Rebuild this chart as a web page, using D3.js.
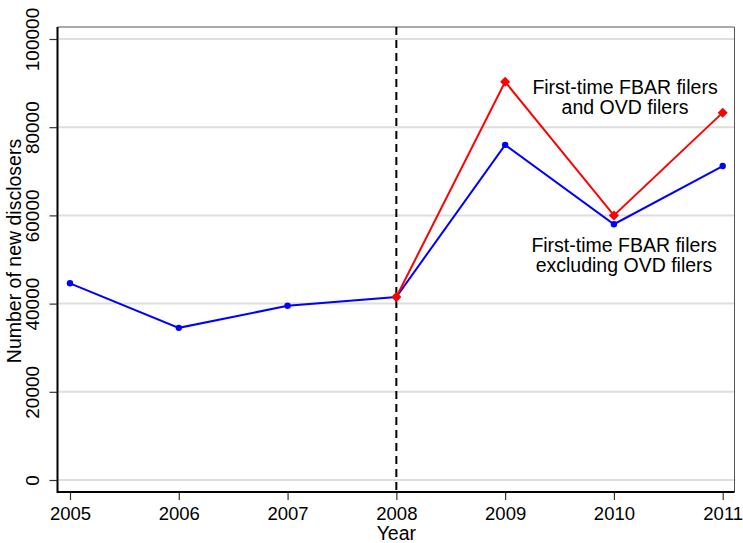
<!DOCTYPE html>
<html><head><meta charset="utf-8">
<script src="https://cdn.jsdelivr.net/npm/d3@7"></script>
<style>body{margin:0;background:#fff}svg{display:block}text{font-family:"Liberation Sans",Arial,sans-serif;fill:#000}</style>
</head><body>
<svg id="c" width="743" height="543"></svg>
<script>
const years = [2005, 2006, 2007, 2008, 2009, 2010, 2011];
const excludingOVD = [44600, 34500, 39500, 41500, 76000, 58000, 71200];
const ovdYears = [2008, 2009, 2010, 2011];
const withOVD = [41500, 90300, 60000, 83300];
const yTicks = [0, 20000, 40000, 60000, 80000, 100000];
const labelA = ["First-time FBAR filers", "and OVD filers"];
const labelB = ["First-time FBAR filers", "excluding OVD filers"];

const svg = d3.select("#c");
const L = 57.5, R = 734.5, T = 27, B = 492;
const x = d3.scaleLinear().domain([2005, 2011]).range([70, 722.7]);
const y = d3.scaleLinear().domain([0, 100000]).range([480, 39]);

// grid
svg.append("g").selectAll("line").data(yTicks).join("line")
  .attr("x1", L).attr("x2", R).attr("y1", d => y(d)).attr("y2", d => y(d))
  .attr("stroke", "#dedede").attr("stroke-width", 2);

// frame top/right
svg.append("path").attr("d", `M${L},${T}H${R}V${B}`).attr("fill", "none")
  .attr("stroke", "#555").attr("stroke-width", 1);

// y axis
const ya = svg.append("g").attr("transform", `translate(${L},0)`)
  .call(d3.axisLeft(y).tickValues(yTicks).tickSize(8).tickPadding(0).tickFormat(d3.format("d")));
ya.select(".domain").remove();
ya.selectAll(".tick line").attr("stroke", "#333").attr("stroke-width", 1.2);
ya.selectAll(".tick text").attr("font-size", 19).attr("font-family", "Liberation Sans, Arial")
  .attr("text-anchor", "middle").attr("transform", "translate(-25,0) rotate(-90)")
  .attr("x", 0).attr("dy", "0.35em").attr("fill", "#000");

// x axis
const xa = svg.append("g").attr("transform", `translate(0,${B})`)
  .call(d3.axisBottom(x).tickValues(years).tickSize(8).tickPadding(7).tickFormat(d3.format("d")));
xa.select(".domain").remove();
xa.selectAll(".tick line").attr("stroke", "#333").attr("stroke-width", 1.2);
xa.selectAll(".tick text").attr("font-size", 18.5).attr("font-family", "Liberation Sans, Arial").attr("fill", "#000");

// left & bottom thick axis lines
svg.append("path").attr("d", `M${L},${T}V${B}H${R}`).attr("fill", "none")
  .attr("stroke", "#000").attr("stroke-width", 2);

// titles
svg.append("text").attr("x", x(2008)).attr("y", 540).attr("text-anchor", "middle")
  .attr("font-size", 19.5).text("Year");
svg.append("text").attr("transform", "translate(21,251) rotate(-90)").attr("text-anchor", "middle")
  .attr("font-size", 19.5).text("Number of new disclosers");

// dashed vline
svg.append("line").attr("x1", x(2008)).attr("x2", x(2008)).attr("y1", T).attr("y2", B)
  .attr("stroke", "#000").attr("stroke-width", 2).attr("stroke-dasharray", "8,5");

// series
const blue = years.map((d, i) => [d, excludingOVD[i]]);
const red = ovdYears.map((d, i) => [d, withOVD[i]]);
const line = d3.line().x(d => x(d[0])).y(d => y(d[1]));
svg.append("path").datum(blue).attr("d", line).attr("fill", "none").attr("stroke", "#0000ff").attr("stroke-width", 2);
svg.append("g").selectAll("circle").data(blue).join("circle")
  .attr("cx", d => x(d[0])).attr("cy", d => y(d[1])).attr("r", 3.2).attr("fill", "#0000ff");

svg.append("path").datum(red).attr("d", line).attr("fill", "none").attr("stroke", "#ff0000").attr("stroke-width", 2);
svg.append("g").selectAll("path").data(red).join("path")
  .attr("transform", d => `translate(${x(d[0])},${y(d[1])})`)
  .attr("d", d3.symbol(d3.symbolDiamond2, 64)).attr("fill", "#ff0000");

// annotations
const ta = svg.append("text").attr("text-anchor", "middle").attr("font-size", 19.5);
labelA.forEach((t, i) => ta.append("tspan").attr("x", 625).attr("y", 94 + i * 19.5).text(t));
const tb = svg.append("text").attr("text-anchor", "middle").attr("font-size", 19.5);
labelB.forEach((t, i) => tb.append("tspan").attr("x", 624).attr("y", 252 + i * 19.5).text(t));
</script>
</body></html>
